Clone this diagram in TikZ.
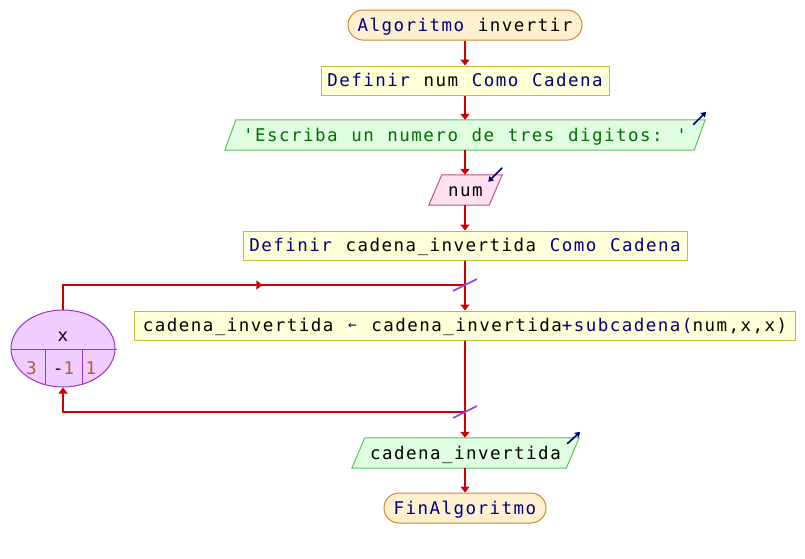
\documentclass[tikz,border=0pt]{standalone}
\usepackage{fontspec}
\setmonofont{DejaVu Sans Mono}[LetterSpace=8.4, WordSpace=1.139]
\usetikzlibrary{arrows.meta,calc,backgrounds,decorations.markings,shapes.geometric}

\definecolor{flowred}{RGB}{204,0,0}
\definecolor{kw}{RGB}{0,0,128}
\definecolor{strgreen}{RGB}{0,110,0}
\definecolor{numbrown}{RGB}{170,100,50}
\definecolor{termfill}{RGB}{255,240,208}
\definecolor{termdraw}{RGB}{204,136,51}
\definecolor{procfill}{RGB}{255,255,216}
\definecolor{procdraw}{RGB}{190,190,60}
\definecolor{outfill}{RGB}{224,255,224}
\definecolor{outdraw}{RGB}{96,192,96}
\definecolor{infill}{RGB}{255,224,240}
\definecolor{indraw}{RGB}{192,80,128}
\definecolor{loopfill}{RGB}{240,204,255}
\definecolor{loopdraw}{RGB}{153,51,204}
\definecolor{slashcol}{RGB}{153,68,221}

\newcommand{\assignarrow}{\makebox[10.5pt]{\raisebox{2.5pt}{\fontsize{14}{14}\selectfont ←}}}

\tikzset{
  label text/.style={text height=14pt, text depth=2pt},
  term/.style={label text, draw=termdraw, fill=termfill, line width=1pt, rounded corners=15pt,
    inner sep=0pt, minimum height=30pt},
  proc/.style={label text, draw=procdraw, fill=procfill, line width=1pt, inner sep=0pt, minimum height=29pt},
  ionode/.style={label text, inner sep=0pt, minimum height=30pt},
  outshape/.style={draw=outdraw, fill=outfill, line width=1pt},
  inshape/.style={draw=indraw, fill=infill, line width=1pt},
  flowline/.style={draw=flowred, line width=2pt},
  flow/.style={flowline, -{Triangle[width=9pt,length=6pt]}},
  iconarrow/.style={draw=kw, line width=1.6pt, -{Triangle[width=6pt,length=5pt]}},
  slash/.style={draw=slashcol, line width=1.6pt},
  loopnode/.style={ellipse, draw=loopdraw, fill=loopfill, line width=1pt, inner sep=0pt,
    minimum width=104pt, minimum height=77pt},
}

\begin{document}
\begin{tikzpicture}[x=1pt, y=-1pt, font=\ttfamily\fontsize{17.5}{20}\selectfont]
\useasboundingbox (0,0) rectangle (805,558);

% main column
\node[term, minimum width=234pt] (start) at (465,25) {\textcolor{kw}{Algoritmo} invertir};
\node[proc, minimum width=288pt] (def1) at (465,80.5) {\textcolor{kw}{Definir} num \textcolor{kw}{Como Cadena}};
\node[ionode, minimum width=480pt] (out1) at (465,135) {\textcolor{strgreen}{'Escriba un numero de tres digitos: '}};
\node[ionode, minimum width=73pt] (in1) at (465.5,190) {num};
\node[proc, minimum width=444pt] (def2) at (465,245.5) {\textcolor{kw}{Definir} cadena\_invertida \textcolor{kw}{Como Cadena}};
\coordinate (jt) at (465,285);
\node[proc, minimum width=661pt] (assign) at (465,325.5)
  {cadena\_invertida \textcolor{kw}{\assignarrow} cadena\_invertida\textcolor{kw}{+subcadena(}num,x,x)};
\coordinate (jb) at (465,412);
\node[ionode, minimum width=227pt] (out2) at (465.5,453) {cadena\_invertida};
\node[term, minimum width=162pt] (end) at (465,508) {\textcolor{kw}{FinAlgoritmo}};

% parallelogram bodies behind the i/o texts
\begin{scope}[on background layer]
  \draw[outshape] ($(out1.north west)+(11,0)$) -- (out1.north east)
    -- ($(out1.south east)+(-11,0)$) -- (out1.south west) -- cycle;
  \draw[inshape] ($(in1.north west)+(13,0)$) -- (in1.north east)
    -- ($(in1.south east)+(-13,0)$) -- (in1.south west) -- cycle;
  \draw[outshape] ($(out2.north west)+(13,0)$) -- (out2.north east)
    -- ($(out2.south east)+(-13,0)$) -- (out2.south west) -- cycle;
\end{scope}

% read / write markers
\draw[iconarrow] ($(out1.north east)+(-12,5)$) -- ($(out1.north east)+(1,-8)$);
\draw[iconarrow] ($(in1.north east)+(0,-7)$) -- ($(in1.north east)+(-14,7)$);
\draw[iconarrow] ($(out2.north east)+(-12,6)$) -- ($(out2.north east)+(1,-6)$);

% counting loop
\node[loopnode] (loop) at (63,348.5) {};
\draw[draw=loopdraw, line width=1pt] ($(loop.west)+(0,0.5)$) -- ($(loop.east)+(1,0.5)$);
\draw[draw=loopdraw, line width=1pt] ($(loop.center)+(-18,0.5)$) -- ($(loop.center)+(-18,35.5)$);
\draw[draw=loopdraw, line width=1pt] ($(loop.center)+(19,0.5)$) -- ($(loop.center)+(19,35.5)$);
\node (lvar) at (63,337) {x};
\node[text=numbrown] (lfrom) at (31.5,368) {3};
\node (lstep) at (63.5,368) {\textcolor{kw}{-}\textcolor{numbrown}{1}};
\node[text=numbrown] (lto) at (91,368) {1};

% connectors
\draw[flow] (start) -- (def1);
\draw[flow] (def1) -- (out1);
\draw[flow] (out1) -- (in1.north -| out1.south);
\draw[flow] (in1.south -| def2.north) -- (def2);
\draw[flow] (def2) -- (assign);
\draw[flow] (assign) -- (out2.north -| assign.south);
\draw[flow] (out2.south -| end.north) -- (end);
\draw[flowline, postaction={decorate}, decoration={markings,
    mark=at position 0.525 with {\arrow{Triangle[width=9pt,length=6pt]}}}]
  (loop.north) |- (jt);
\draw[flow] (jb) -| (loop.south);

% loop junction marks
\draw[slash] ($(jt)+(-12,6)$) -- ($(jt)+(12,-6)$);
\draw[slash] ($(jb)+(-12,6)$) -- ($(jb)+(12,-6)$);
\end{tikzpicture}
\end{document}
